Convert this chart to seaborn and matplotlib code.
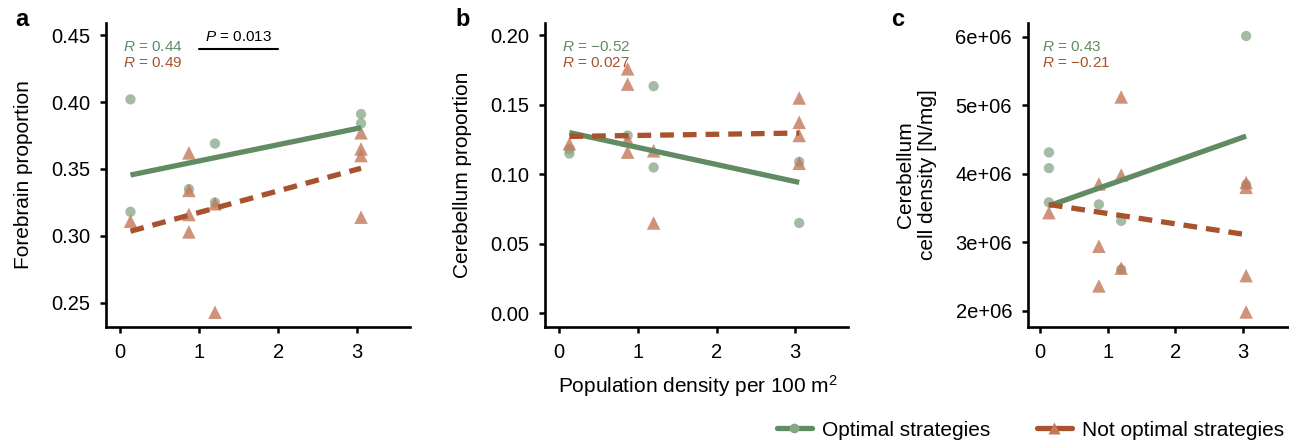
import matplotlib
matplotlib.use("Agg")
import matplotlib.pyplot as plt
from matplotlib.lines import Line2D
import seaborn as sns
import numpy as np

# ---------------- data ----------------
opt_x = [0.13, 0.13, 0.87, 1.2, 1.2, 3.05, 3.05]
not_x = [0.13, 0.87, 0.87, 0.87, 0.87, 1.2, 1.2, 3.05, 3.05, 3.05, 3.05]

a_opt_y = [0.402, 0.318, 0.335, 0.369, 0.325, 0.391, 0.384]
a_not_y = [0.311, 0.362, 0.334, 0.316, 0.303, 0.324, 0.243, 0.377, 0.365, 0.360, 0.314]

b_opt_y = [0.115, 0.118, 0.128, 0.1635, 0.105, 0.109, 0.065]
b_not_y = [0.122, 0.176, 0.165, 0.125, 0.116, 0.117, 0.065, 0.155, 0.1375, 0.128, 0.108]

c_opt_x = [0.13, 0.13, 0.13, 0.87, 1.2, 1.2, 3.05, 3.05]
c_opt_y = [4.31e6, 4.08e6, 3.58e6, 3.55e6, 3.31e6, 2.60e6, 6.01e6, 3.84e6]
c_not_x = [0.13, 0.87, 0.87, 0.87, 1.2, 1.2, 1.2, 3.05, 3.05, 3.05, 3.05]
c_not_y = [3.43e6, 3.85e6, 2.94e6, 2.36e6, 5.12e6, 3.98e6, 2.62e6, 3.87e6, 3.80e6, 2.51e6, 1.98e6]

r_opt = ["0.44", "\u22120.52", "0.43"]
r_not = ["0.49", "0.027", "\u22120.21"]
ylabels = ["Forebrain proportion", "Cerebellum proportion", "Cerebellum\ncell density [N/mg]"]
panel_letters = ["a", "b", "c"]
xticks = [0, 1, 2, 3]
a_yticks = [0.25, 0.30, 0.35, 0.40, 0.45]
b_yticks = [0.00, 0.05, 0.10, 0.15, 0.20]
c_yticks = [2e6, 3e6, 4e6, 5e6, 6e6]
c_yticklabels = ["2e+06", "3e+06", "4e+06", "5e+06", "6e+06"]
legend_labels = ["Optimal strategies", "Not optimal strategies"]
xlabel = "Population density per 100 m$^2$"

# ---------------- style ----------------
sns.set_style("ticks")
plt.rcParams["font.family"] = ["Liberation Sans", "DejaVu Sans"]
plt.rcParams["mathtext.fontset"] = "custom"
plt.rcParams["mathtext.rm"] = "Liberation Sans"
plt.rcParams["mathtext.it"] = "Liberation Sans:italic"
for k in ["text.color", "axes.labelcolor", "xtick.color", "ytick.color", "axes.edgecolor"]:
    plt.rcParams[k] = "black"

GREEN_PT = "#86a686"
GREEN_LN = "#618b62"
RED_PT = "#c4785a"
RED_LN = "#a8532e"
FS_TICK = 14.5
FS = 15

W, H = 1289, 442
fig = plt.figure(figsize=(W / 100, H / 100), dpi=100)

def frac(l, r, t, b):
    return [l / W, 1 - b / H, (r - l) / W, (b - t) / H]

axes = [
    fig.add_axes(frac(106, 410, 23, 327)),
    fig.add_axes(frac(545, 848, 23, 327)),
    fig.add_axes(frac(1028, 1288, 23, 327)),
]

panels = [
    (opt_x, a_opt_y, not_x, a_not_y, (0.232, 0.459), a_yticks, [f"{v:.2f}" for v in a_yticks]),
    (opt_x, b_opt_y, not_x, b_not_y, (-0.0099, 0.209), b_yticks, [f"{v:.2f}" for v in b_yticks]),
    (c_opt_x, c_opt_y, c_not_x, c_not_y, (1.76e6, 6.2e6), c_yticks, c_yticklabels),
]

for i, (ax, (ox, oy, nx, ny, ylim, yt, ytl)) in enumerate(zip(axes, panels)):
    sns.scatterplot(x=ox, y=oy, ax=ax, marker="o", s=55, color=GREEN_PT,
                    alpha=0.75, edgecolor="none", zorder=2)
    sns.scatterplot(x=nx, y=ny, ax=ax, marker="^", s=95, color=RED_PT,
                    alpha=0.8, edgecolor="none", zorder=3)
    sns.regplot(x=ox, y=oy, ax=ax, scatter=False, ci=None, color=GREEN_LN,
                line_kws=dict(lw=3.8, solid_capstyle="butt", zorder=4))
    sns.regplot(x=nx, y=ny, ax=ax, scatter=False, ci=None, color=RED_LN,
                line_kws=dict(lw=3.8, ls=(0, (2.6, 1.7)), dash_capstyle="butt", zorder=5))
    ax.set_xlim(-0.18, 3.67)
    ax.set_ylim(*ylim)
    ax.set_xticks(xticks)
    ax.set_yticks(yt)
    ax.set_yticklabels(ytl)
    ax.tick_params(labelsize=FS_TICK, width=1.8, length=4.5, color="black", pad=7,
                   labelcolor="black")
    for s in ["left", "bottom"]:
        ax.spines[s].set_linewidth(1.9)
        ax.spines[s].set_color("black")
    sns.despine(ax=ax)
    ax.set_ylabel(ylabels[i], fontsize=FS, labelpad=13, color="black")
    yr = ylim[1] - ylim[0]
    ax.text(0.03, ylim[1] - 0.079 * yr, "$R$ = " + r_opt[i], color=GREEN_LN,
            fontsize=11, ha="left", va="center")
    ax.text(0.03, ylim[1] - 0.132 * yr, "$R$ = " + r_not[i], color=RED_LN,
            fontsize=11, ha="left", va="center")

# P-value bracket on panel a
axes[0].plot([1, 2], [0.4395, 0.4395], color="black", lw=1.5)
axes[0].text(1.5, 0.4485, "$P$ = 0.013", fontsize=11, ha="center", va="center", color="black")

# panel letters
for x, l in zip([22, 463, 898], panel_letters):
    fig.text(x / W, 1 - 20 / H, l, fontsize=17, fontweight="bold", ha="center", va="center",
             color="black")

fig.text(698 / W, 1 - 386 / H, xlabel, fontsize=FS, ha="center", va="center", color="black")

handles = [
    Line2D([], [], color=GREEN_LN, lw=3.8, marker="o", markersize=7,
           markerfacecolor=GREEN_PT, markeredgecolor="none"),
    Line2D([], [], color=RED_LN, lw=3.8, marker="^", markersize=8,
           markerfacecolor=RED_PT, markeredgecolor="none"),
]
fig.legend(handles, legend_labels, loc="center right", bbox_to_anchor=(1.003, 1 - 430 / H),
           ncol=2, frameon=False, fontsize=FS, handlelength=1.7, columnspacing=2.2,
           handletextpad=0.5, borderaxespad=0.0, labelcolor="black")

fig.savefig("out.png", dpi=100)
